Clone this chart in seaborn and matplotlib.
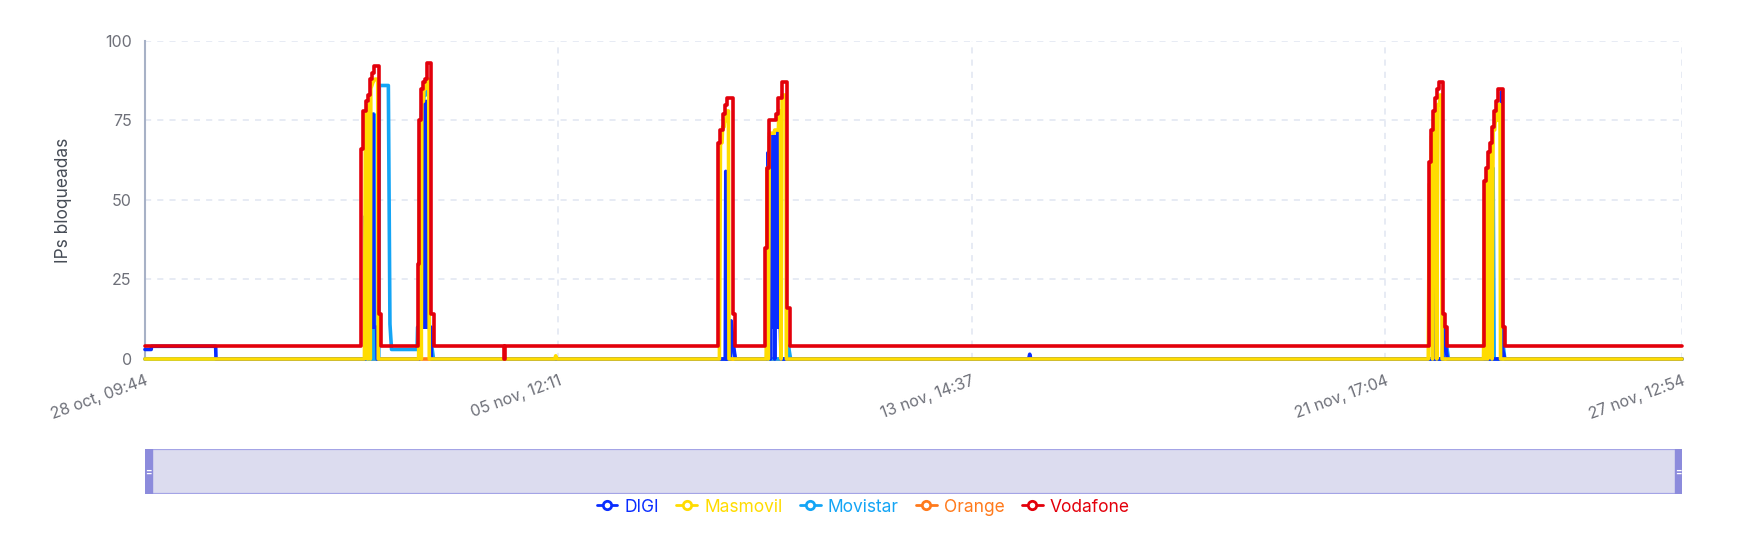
import pandas as pd
import matplotlib.pyplot as plt
import seaborn as sns
from matplotlib.lines import Line2D
from matplotlib.patches import Rectangle

# time range and axis ticks
start = "10-28 09:44"
end = "11-27 12:54"
tick_times = ["10-28 09:44", "11-05 12:11", "11-13 14:37", "11-21 17:04", "11-27 12:54"]
tick_labels = ["28 oct, 09:44", "05 nov, 12:11", "13 nov, 14:37", "21 nov, 17:04", "27 nov, 12:54"]
y_ticks = [0, 25, 50, 75, 100]

# blocked IPs per operator
# vodafone is given as step changes, the others as plain samples
vodafone = [
    ("10-28 09:44", 4),
    ("11-01 15:00", 4), ("11-01 15:30", 66), ("11-01 16:30", 78), ("11-01 17:30", 81), ("11-01 18:30", 83),
    ("11-01 19:30", 88), ("11-01 20:30", 90), ("11-01 21:30", 92), ("11-01 23:00", 92), ("11-02 00:00", 14),
    ("11-02 00:45", 4),
    ("11-02 17:00", 4), ("11-02 18:00", 30), ("11-02 18:30", 75), ("11-02 19:30", 85), ("11-02 20:30", 87),
    ("11-02 21:30", 88), ("11-02 22:30", 93), ("11-03 00:00", 93), ("11-03 00:30", 14), ("11-03 01:30", 4),
    ("11-04 10:00", 4), ("11-04 10:30", 0), ("11-04 11:00", 4),
    ("11-08 15:00", 4), ("11-08 15:30", 68), ("11-08 16:30", 72), ("11-08 17:30", 77), ("11-08 18:30", 80),
    ("11-08 19:30", 82), ("11-08 22:00", 82), ("11-08 22:30", 14), ("11-08 23:30", 4),
    ("11-09 13:00", 4), ("11-09 13:30", 35), ("11-09 14:30", 60), ("11-09 15:30", 75), ("11-09 18:30", 77),
    ("11-09 19:30", 82), ("11-09 21:30", 87), ("11-10 00:00", 16), ("11-10 01:00", 4),
    ("11-22 13:00", 4), ("11-22 13:45", 62), ("11-22 14:45", 72), ("11-22 15:45", 78), ("11-22 16:45", 82),
    ("11-22 17:45", 85), ("11-22 18:30", 87), ("11-22 20:30", 14), ("11-22 21:30", 10), ("11-22 22:30", 4),
    ("11-23 15:00", 4), ("11-23 15:30", 56), ("11-23 16:30", 60), ("11-23 17:30", 65), ("11-23 18:30", 68),
    ("11-23 19:30", 73), ("11-23 20:30", 78), ("11-23 21:30", 81), ("11-23 22:30", 85), ("11-24 00:30", 10),
    ("11-24 01:30", 4),
    ("11-27 12:54", 4),
]

masmovil = [
    ("10-28 09:44", 0),
    ("11-01 17:00", 0), ("11-01 17:30", 78), ("11-01 18:00", 78), ("11-01 18:30", 0), ("11-01 19:00", 80),
    ("11-01 19:15", 80), ("11-01 19:45", 0), ("11-01 20:00", 85), ("11-01 21:00", 87), ("11-01 22:00", 88),
    ("11-01 23:15", 88), ("11-01 23:30", 0),
    ("11-02 18:30", 0), ("11-02 19:00", 69), ("11-02 19:15", 69), ("11-02 19:45", 0), ("11-02 20:00", 81),
    ("11-02 20:45", 81), ("11-02 21:00", 85), ("11-02 21:45", 85), ("11-02 22:00", 88), ("11-02 23:15", 88),
    ("11-02 23:30", 0),
    ("11-05 10:30", 0), ("11-05 11:00", 1), ("11-05 11:30", 0),
    ("11-08 16:00", 0), ("11-08 16:30", 68), ("11-08 17:15", 68), ("11-08 17:30", 73), ("11-08 18:15", 73),
    ("11-08 18:30", 75), ("11-08 19:15", 75), ("11-08 19:30", 78), ("11-08 20:15", 78), ("11-08 20:30", 0),
    ("11-09 14:00", 0), ("11-09 14:30", 60), ("11-09 15:00", 0), ("11-09 15:30", 71), ("11-09 17:45", 71),
    ("11-09 18:00", 72), ("11-09 19:45", 72), ("11-09 20:00", 78), ("11-09 20:45", 78), ("11-09 21:00", 0),
    ("11-09 21:30", 83), ("11-09 23:15", 83), ("11-09 23:30", 0),
    ("11-22 13:30", 0), ("11-22 14:00", 55), ("11-22 14:45", 55), ("11-22 15:00", 70), ("11-22 15:15", 70),
    ("11-22 15:30", 0), ("11-22 16:00", 75), ("11-22 16:45", 75), ("11-22 17:00", 78), ("11-22 17:15", 78),
    ("11-22 17:30", 0), ("11-22 18:00", 80), ("11-22 18:45", 80), ("11-22 19:00", 83), ("11-22 19:45", 83),
    ("11-22 20:00", 0),
    ("11-23 15:30", 0), ("11-23 16:00", 52), ("11-23 16:15", 52), ("11-23 16:30", 0), ("11-23 17:00", 60),
    ("11-23 17:15", 60), ("11-23 17:30", 0), ("11-23 18:00", 62), ("11-23 18:45", 62), ("11-23 19:00", 68),
    ("11-23 19:15", 68), ("11-23 19:30", 0), ("11-23 20:00", 72), ("11-23 20:45", 72), ("11-23 21:00", 75),
    ("11-23 21:45", 75), ("11-23 22:00", 80), ("11-23 23:15", 80), ("11-23 23:30", 0),
    ("11-27 12:54", 0),
]

movistar = [
    ("10-28 09:44", 0),
    ("11-01 21:00", 0), ("11-01 21:30", 77), ("11-01 22:00", 0), ("11-01 23:45", 0), ("11-02 00:00", 86),
    ("11-02 04:15", 86), ("11-02 05:00", 11), ("11-02 05:45", 3),
    ("11-02 17:45", 3), ("11-02 18:00", 10), ("11-02 18:45", 10), ("11-02 19:00", 75), ("11-02 19:45", 75),
    ("11-02 20:00", 80), ("11-02 20:45", 80), ("11-02 21:00", 83), ("11-02 21:45", 83), ("11-02 22:00", 85),
    ("11-02 23:15", 85), ("11-02 23:30", 10), ("11-03 00:30", 5), ("11-03 01:30", 0),
    ("11-08 21:00", 0), ("11-08 21:30", 8), ("11-08 22:30", 3), ("11-08 23:30", 0),
    ("11-10 00:00", 0), ("11-10 00:30", 4), ("11-10 01:30", 0),
    ("11-22 16:30", 0), ("11-22 17:00", 70), ("11-22 17:30", 0), ("11-22 20:45", 0), ("11-22 21:00", 8),
    ("11-22 22:00", 5), ("11-22 23:00", 0),
    ("11-23 19:30", 0), ("11-23 20:00", 60), ("11-23 20:30", 0), ("11-24 00:15", 0), ("11-24 00:30", 6),
    ("11-24 01:30", 0),
    ("11-27 12:54", 0),
]

digi = [
    ("10-28 09:44", 3), ("10-28 12:40", 3), ("10-28 12:50", 4), ("10-29 19:00", 4), ("10-29 19:10", 0),
    ("11-01 17:15", 0), ("11-01 17:30", 45), ("11-01 18:00", 10), ("11-01 20:45", 10), ("11-01 21:00", 77),
    ("11-01 21:30", 10), ("11-01 22:45", 10), ("11-01 23:00", 0),
    ("11-02 18:45", 0), ("11-02 19:00", 10), ("11-02 19:45", 10), ("11-02 20:00", 80), ("11-02 20:30", 10),
    ("11-02 21:00", 80), ("11-02 21:30", 10), ("11-02 22:00", 81), ("11-02 22:30", 10), ("11-02 23:00", 81),
    ("11-02 23:30", 10), ("11-03 00:15", 10), ("11-03 00:30", 0),
    ("11-08 18:45", 0), ("11-08 19:00", 59), ("11-08 19:30", 0), ("11-08 21:15", 0), ("11-08 21:30", 12),
    ("11-08 22:30", 5), ("11-08 23:30", 0),
    ("11-09 14:15", 0), ("11-09 14:30", 10), ("11-09 15:00", 65), ("11-09 15:20", 10), ("11-09 15:40", 70),
    ("11-09 16:00", 0), ("11-09 16:20", 70), ("11-09 16:40", 10), ("11-09 17:00", 70), ("11-09 17:20", 10),
    ("11-09 17:40", 70), ("11-09 18:00", 0), ("11-09 18:20", 70), ("11-09 18:40", 10), ("11-09 19:00", 70),
    ("11-09 19:20", 10), ("11-09 19:40", 72), ("11-09 20:00", 10), ("11-09 20:20", 75), ("11-09 20:40", 10),
    ("11-09 21:00", 0),
    ("11-14 17:30", 0), ("11-14 18:00", 1.5), ("11-14 18:30", 0),
    ("11-22 17:00", 0), ("11-22 17:15", 75), ("11-22 17:30", 0), ("11-22 20:15", 0), ("11-22 20:30", 13),
    ("11-22 21:30", 5), ("11-22 22:30", 0),
    ("11-23 23:45", 0), ("11-24 00:00", 84), ("11-24 00:30", 3), ("11-24 01:30", 0),
    ("11-27 12:54", 0),
]

orange = [("10-28 09:44", 0), ("11-27 12:54", 0)]

series = {
    "DIGI": (digi, "#0a2dff"),
    "Masmovil": (masmovil, "#ffdc00"),
    "Movistar": (movistar, "#14a5f5"),
    "Orange": (orange, "#ff7a1c"),
    "Vodafone": (vodafone, "#e3000b"),
}
draw_order = ["Orange", "Movistar", "DIGI", "Masmovil", "Vodafone"]


def to_time(s):
    return pd.to_datetime("2023-" + s)


sns.set_style("white")
plt.rcParams["font.family"] = ["Inter", "DejaVu Sans"]

fig = plt.figure(figsize=(17.4, 5.47), dpi=100)
ax = fig.add_axes([0.0833, 0.3437, 0.8834, 0.5814])

for z, name in enumerate(draw_order):
    pts, color = series[name]
    df = pd.DataFrame(pts, columns=["time", "value"])
    df["time"] = df["time"].map(to_time)
    style = "steps-post" if name == "Vodafone" else "default"
    sns.lineplot(data=df, x="time", y="value", color=color, lw=2.6, ax=ax,
                 drawstyle=style, zorder=3 + z, clip_on=False)

ax.set_xlim(to_time(start), to_time(end))
ax.set_ylim(0, 100)
ax.set_xticks([to_time(t) for t in tick_times])
ax.set_xticklabels(tick_labels, rotation=20, ha="right", rotation_mode="anchor")
ax.set_yticks(y_ticks)
ax.set_xlabel("")
ax.set_ylabel("IPs bloqueadas", fontsize=12.5, color="#464c56", labelpad=24)

axis_col = "#a7b1c6"
for side in ["top", "right"]:
    ax.spines[side].set_visible(False)
for side in ["left", "bottom"]:
    ax.spines[side].set_color(axis_col)
    ax.spines[side].set_linewidth(1.5)
ax.tick_params(axis="both", colors=axis_col, labelcolor="#6e7079", labelsize=11.5, length=6, width=1.3)
ax.tick_params(axis="x", pad=4)
ax.grid(True, ls=(0, (4, 4)), color="#e0e6f1", lw=1.1)
ax.set_axisbelow(True)

# data zoom slider under the chart
sax = fig.add_axes([0.0833, 0.0969, 0.8834, 0.0823])
sax.set_axis_off()
sax.add_patch(Rectangle((0, 0), 1, 1, transform=sax.transAxes, facecolor="#dcdcef",
                        edgecolor="#a4a4e6", lw=1.6))
hw = 7 / 1537
for x0 in [0, 1 - hw]:
    sax.add_patch(Rectangle((x0, 0), hw, 1, transform=sax.transAxes, facecolor="#8c8bdc",
                            edgecolor="#8c8bdc", lw=1))
    sax.text(x0 + hw / 2, 0.5, "=", color="white", fontsize=7, ha="center", va="center",
             transform=sax.transAxes, fontweight="bold")

handles = []
labels = list(series.keys())
for name in labels:
    c = series[name][1]
    handles.append(Line2D([0], [0], color=c, lw=2, marker="o", markersize=6,
                          markerfacecolor="white", markeredgecolor=c, markeredgewidth=2))
leg = fig.legend(handles, labels, loc="center", bbox_to_anchor=(0.496, 0.073), ncol=5,
                 frameon=False, fontsize=12.5, handlelength=1.2, handletextpad=0.4,
                 columnspacing=1.0)
for txt, name in zip(leg.get_texts(), labels):
    txt.set_color(series[name][1])

fig.savefig("out.png", dpi=100)
